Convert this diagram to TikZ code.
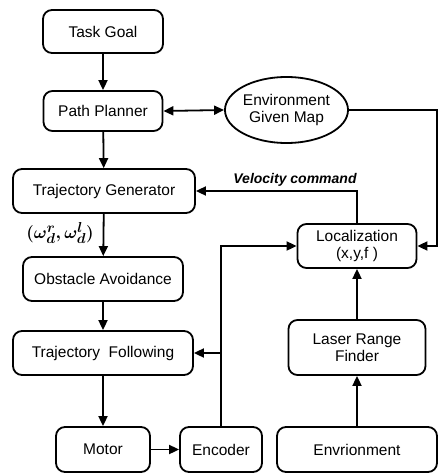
\documentclass[tikz,border=0pt]{standalone}
\usepackage{fontspec}
\setmainfont{Liberation Sans}
\usetikzlibrary{arrows.meta,shapes.geometric}
\begin{document}
\begin{tikzpicture}[x=1pt,y=-1pt,
  box/.style={draw,line width=1.8pt,rounded corners=9pt,inner sep=0pt,
    font=\fontsize{15.5}{17.5}\selectfont,align=center},
  arr/.style={line width=1.8pt,-{Triangle[length=10pt,width=9pt]}},
  darr/.style={line width=1.8pt,{Triangle[length=10pt,width=9pt]}-{Triangle[length=10pt,width=9pt]}}]
\useasboundingbox (0,0) rectangle (438,474);
\node[box,minimum width=120pt,minimum height=43pt] (task) at (103,31.5) {Task Goal};
\node[box,minimum width=119pt,minimum height=40pt] (pp) at (103,111) {Path Planner};
\node[box,minimum width=182pt,minimum height=44pt] (tg) at (104,191) {Trajectory Generator};
\node[box,minimum width=160pt,minimum height=44pt] (oa) at (103,279) {Obstacle Avoidance};
\node[box,minimum width=180pt,minimum height=44pt] (tf) at (103,353) {Trajectory\ \ Following};
\node[box,minimum width=94pt,minimum height=45pt] (motor) at (103,449.5) {Motor};
\node[box,minimum width=82pt,minimum height=45pt] (enc) at (221,449.5) {Encoder};
\node[box,minimum width=160pt,minimum height=45pt] (envr) at (357,449.5) {Envrionment};
\node[box,minimum width=137pt,minimum height=55pt] (laser) at (357,347.5) {Laser Range\\Finder};
\node[box,minimum width=119pt,minimum height=44pt] (loc) at (357,246) {Localization\\(x,y,f )};
\node[draw,ellipse,line width=1.8pt,inner sep=0pt,minimum width=123pt,minimum height=66pt,
  font=\fontsize{15.5}{17.5}\selectfont,align=center] (env) at (286.5,110) {Environment\\Given Map};
\coordinate (c1) at (437,110);
\coordinate (br) at (enc.north |- tf.east);
\draw[arr] (task) -- (pp);
\draw[darr] (pp.east) -- (env.west);
\draw[arr] (pp) -- (tg);
\draw[arr] (env.east) -- (c1) |- (loc.east);
\draw[arr] (loc.north) |- (tg.east);
\node[font=\fontsize{14}{16}\selectfont\bfseries\itshape] (vel) at (295,180) {Velocity command};
\draw[arr] (tg) -- (oa);
\node[font=\fontsize{19}{21}\selectfont\boldmath,inner sep=0pt] (om) at (60,233) {$(\omega_d^r,\omega_d^l)$};
\draw[arr] (oa) -- (tf);
\draw[arr] (tf) -- (motor);
\draw[arr] (motor) -- (enc);
\draw[arr] (enc.north) |- (loc.west);
\draw[arr] (br) -- (tf.east);
\draw[arr] (envr) -- (laser);
\draw[arr] (laser) -- (loc);
\end{tikzpicture}
\end{document}
